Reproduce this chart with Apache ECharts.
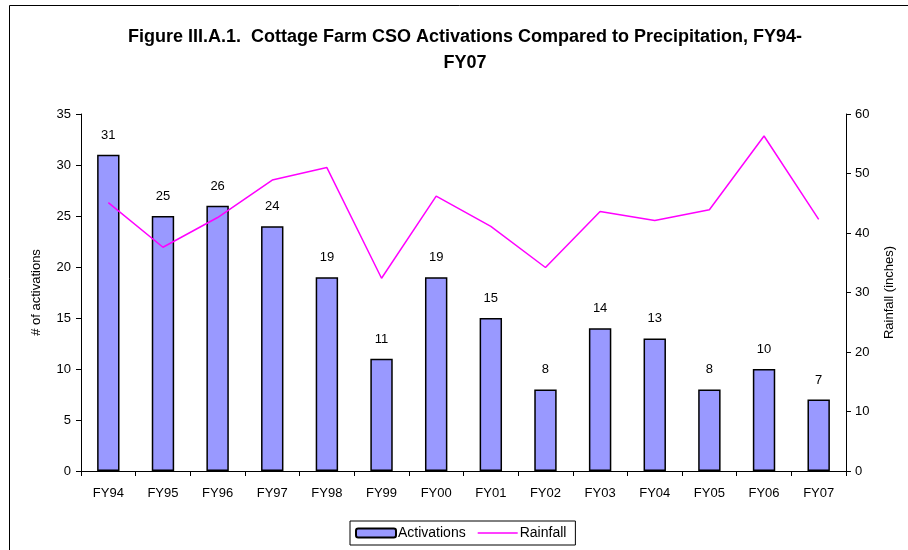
<!DOCTYPE html>
<html>
<head>
<meta charset="utf-8">
<script src="https://cdn.jsdelivr.net/npm/echarts@6/dist/echarts.min.js"></script>
<style>
  html, body { margin: 0; padding: 0; background: #fff; }
  #chart { width: 908px; height: 550px; }
</style>
</head>
<body>
<div id="chart"></div>
<script>
// fiscal years on the x axis
const years = ['FY94', 'FY95', 'FY96', 'FY97', 'FY98', 'FY99', 'FY00', 'FY01', 'FY02', 'FY03', 'FY04', 'FY05', 'FY06', 'FY07'];
// CSO activations per year
const activations = [31, 25, 26, 24, 19, 11, 19, 15, 8, 14, 13, 8, 10, 7];
// rainfall in inches
const rainfall = [45.1, 37.6, 42.6, 48.9, 51.0, 32.4, 46.2, 41.1, 34.2, 43.6, 42.1, 43.9, 56.3, 42.3];

const font = 'Liberation Sans, Arial, sans-serif';
const chart = echarts.init(document.getElementById('chart'));

const option = {
  animation: false,
  textStyle: { fontFamily: font, color: '#000' },
  title: {
    text: 'Figure III.A.1.  Cottage Farm CSO Activations Compared to Precipitation, FY94-\nFY07',
    left: 460,
    textAlign: 'center',
    top: 19,
    textStyle: { fontFamily: font, fontSize: 18, fontWeight: 'bold', color: '#000', lineHeight: 26 }
  },
  graphic: [{
    type: 'rect',
    shape: { x: 9.5, y: 5.5, width: 1000, height: 1000 },
    style: { fill: 'none', stroke: '#000', lineWidth: 1 },
    silent: true
  }],
  legend: {
    left: 350,
    top: 521,
    itemWidth: 40,
    itemHeight: 9,
    itemGap: 12,
    padding: [5, 9, 5, 5],
    borderColor: '#000',
    borderWidth: 1,
    textStyle: { fontFamily: font, fontSize: 14, color: '#000', padding: [0, 0, 0, -3] },
    data: [
      { name: 'Activations' },
      { name: 'Rainfall', icon: 'path://M0,0 L40,0 L40,1.5 L0,1.5 Z', itemStyle: { color: '#FF00FF' } }
    ]
  },
  grid: { left: 81, right: 62, top: 114, bottom: 79 },
  xAxis: {
    type: 'category',
    data: years,
    axisLine: { lineStyle: { color: '#000', width: 1 } },
    axisTick: { show: true, length: 5, inside: false, lineStyle: { color: '#000' } },
    axisLabel: { color: '#000', fontSize: 13, margin: 16, fontFamily: font }
  },
  yAxis: [{
    type: 'value',
    min: 0, max: 35, interval: 5,
    name: '# of activations',
    nameLocation: 'middle',
    nameGap: 38,
    nameTextStyle: { fontSize: 13, color: '#000', fontFamily: font },
    axisLine: { show: true, lineStyle: { color: '#000' } },
    axisTick: { show: true, length: 5, lineStyle: { color: '#000' } },
    axisLabel: { color: '#000', fontSize: 13, margin: 10, fontFamily: font },
    splitLine: { show: false }
  }, {
    type: 'value',
    min: 0, max: 60, interval: 10,
    name: 'Rainfall (inches)',
    nameLocation: 'middle',
    nameGap: 37,
    nameTextStyle: { fontSize: 13, color: '#000', fontFamily: font },
    axisLine: { show: true, lineStyle: { color: '#000' } },
    axisTick: { show: true, length: 5, lineStyle: { color: '#000' } },
    axisLabel: { color: '#000', fontSize: 13, margin: 9, fontFamily: font },
    splitLine: { show: false }
  }],
  series: [{
    name: 'Activations',
    type: 'bar',
    yAxisIndex: 0,
    data: activations,
    barWidth: '41%',
    itemStyle: { color: '#9999FF', borderColor: '#000', borderWidth: 1.5 },
    label: {
      show: true,
      position: 'top',
      distance: 13,
      color: '#000',
      fontSize: 13,
      fontFamily: font
    }
  }, {
    name: 'Rainfall',
    type: 'line',
    yAxisIndex: 1,
    data: rainfall,
    symbol: 'none',
    lineStyle: { color: '#FF00FF', width: 1.5 },
    itemStyle: { color: '#FF00FF' }
  }]
};

chart.setOption(option);
</script>
</body>
</html>
